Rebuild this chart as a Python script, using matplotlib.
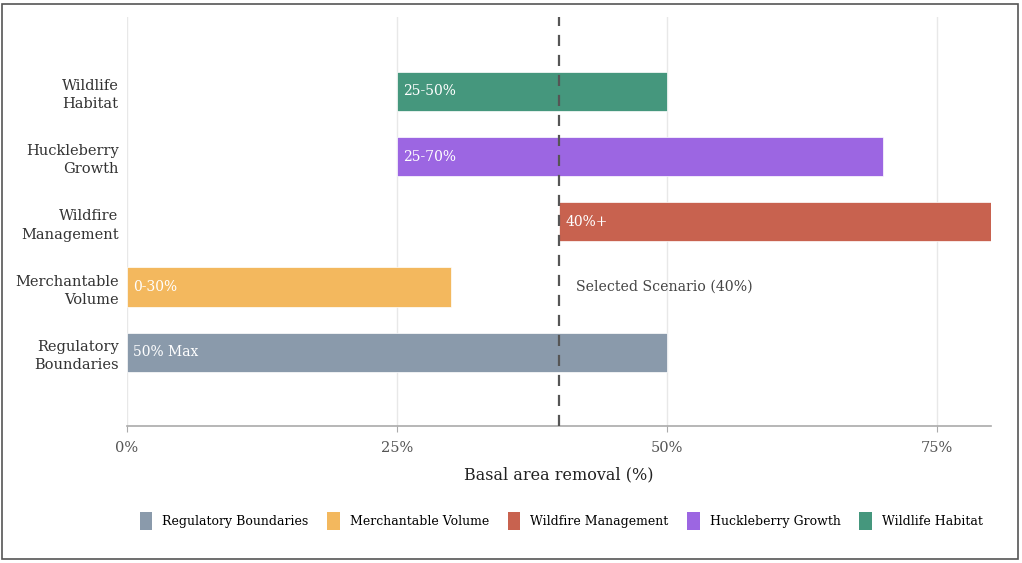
import matplotlib
matplotlib.use("Agg")
import matplotlib.pyplot as plt
from matplotlib.patches import Rectangle, Patch

categories = ["Regulatory Boundaries", "Merchantable Volume", "Wildfire Management",
              "Huckleberry Growth", "Wildlife Habitat"]
tick_labels = ["Regulatory\nBoundaries", "Merchantable\nVolume", "Wildfire\nManagement",
               "Huckleberry\nGrowth", "Wildlife\nHabitat"]
starts = [0, 0, 40, 25, 25]
ends = [50, 30, 80, 70, 50]
bar_labels = ["50% Max", "0-30%", "40%+", "25-70%", "25-50%"]
colors = ["#8a9aab", "#f3b85e", "#c8624f", "#9c66e2", "#45977d"]
selected = 40
x_ticks = [0, 25, 50, 75]
x_tick_labels = ["0%", "25%", "50%", "75%"]

plt.rcParams['font.family'] = ['DejaVu Serif']

fig = plt.figure(figsize=(10.22, 5.63), dpi=100)
ax = fig.add_axes([127/1022, 1-426/563, (991-127)/1022, (426-17)/563])

ypos = list(range(len(categories)))
for y, s, e, c, lab in zip(ypos, starts, ends, colors, bar_labels):
    ax.barh(y, e - s, left=s, height=0.6, color=c, edgecolor="white", linewidth=0.5, zorder=2)
    ax.text(s + 0.6, y, lab, color="white", fontsize=10, va="center", ha="left", zorder=3)

ax.axvline(selected, color="#555555", linestyle=(0, (5, 4)), linewidth=1.6, zorder=4)
ax.text(selected + 1.6, 1, "Selected Scenario (40%)", fontsize=10.2, color="#444444",
        va="center", ha="left")

ax.set_xlim(0, 80)
ax.set_ylim(-1.13, 5.14)
ax.set_xticks(x_ticks)
ax.set_xticklabels(x_tick_labels, color="#555555", fontsize=10.5)
ax.set_yticks(ypos)
ax.set_yticklabels(tick_labels, color="#333333", fontsize=10.5, linespacing=1.4)
ax.tick_params(axis="y", length=0, pad=6)
ax.tick_params(axis="x", length=4, color="#aaaaaa", pad=7)
ax.grid(axis="x", color="#e8e8e8", linewidth=1, zorder=0)
ax.set_axisbelow(True)
for side in ["top", "right", "left"]:
    ax.spines[side].set_visible(False)
ax.spines["bottom"].set_color("#aaaaaa")
ax.spines["bottom"].set_linewidth(1.2)
ax.set_xlabel("Basal area removal (%)", fontsize=11.5, color="#222222", labelpad=8)

handles = [Patch(facecolor=c, edgecolor="none", label=n) for c, n in zip(colors, categories)]
fig.legend(handles=handles, loc="center", bbox_to_anchor=(561/1022, 1-521/563), ncol=5,
           frameon=False, fontsize=9, handlelength=1.0, handleheight=1.9,
           handletextpad=0.8, columnspacing=1.5)

fig.patches.append(Rectangle((2/1022, 4/563), 1016/1022, 555/563, transform=fig.transFigure,
                             fill=False, edgecolor="#555555", linewidth=1.2))

fig.savefig("out.png", dpi=100)
